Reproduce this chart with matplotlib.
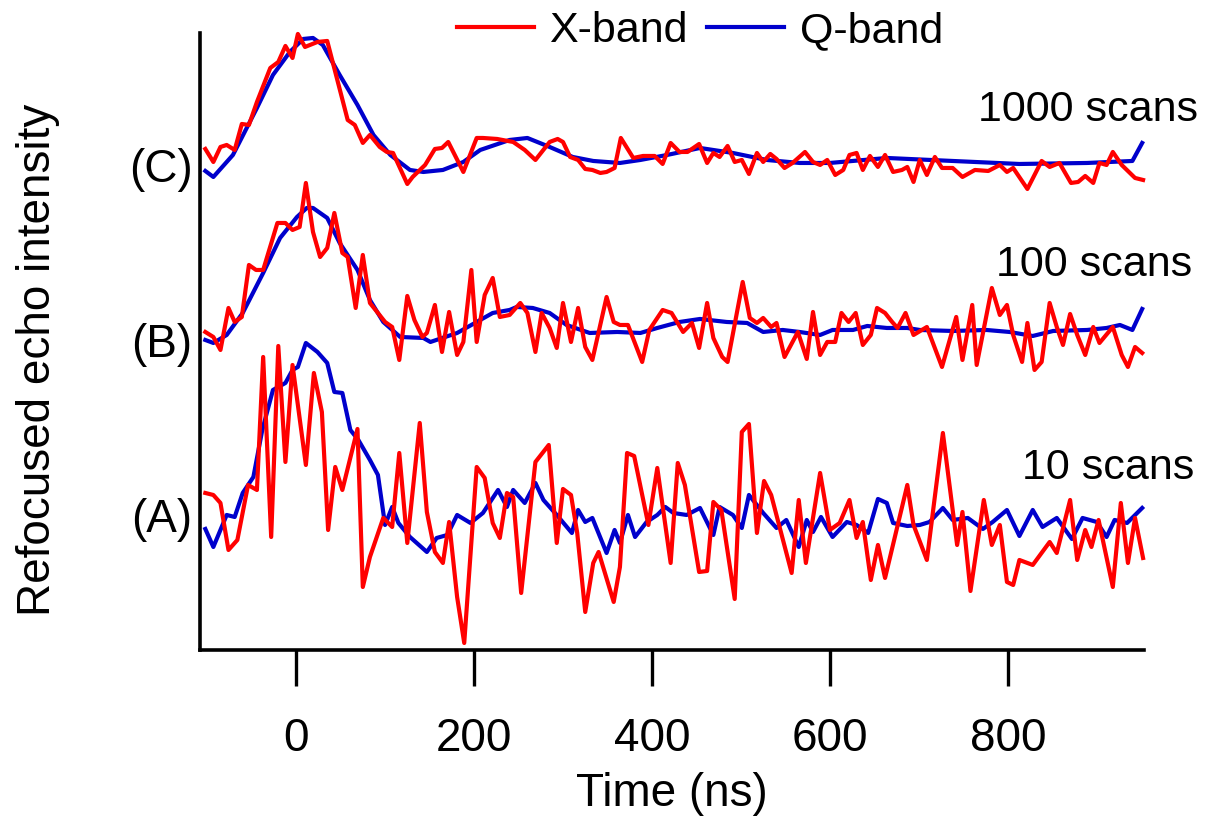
import matplotlib
matplotlib.use("Agg")
import matplotlib.pyplot as plt

plt.rcParams['font.family'] = ['Liberation Sans', 'DejaVu Sans']

# ---- data (time in ns, intensity in arbitrary units) ----
# (C) 1000 scans
xc_t = [-102, -93, -85, -78, -69, -61, -53, -44, -29, -20, -12, -4, 2, 10, 24, 35, 58, 66, 75, 83,
        94, 102, 109, 125, 131, 145, 156, 164, 171, 188, 203, 210, 226, 244, 257, 269, 285, 294, 300, 308,
        317, 325, 333, 342, 349, 358, 365, 379, 390, 403, 412, 421, 431, 440, 453, 462, 469, 476, 485, 493,
        501, 509, 518, 525, 533, 540, 549, 558, 572, 581, 589, 597, 606, 615, 622, 630, 637, 645, 654, 662,
        671, 681, 687, 694, 701, 709, 718, 726, 738, 749, 763, 778, 791, 799, 806, 822, 838, 847, 858, 871,
        879, 887, 896, 903, 911, 918, 928, 943, 952]
xc_y = [0.11, -0.02, 0.13, 0.15, 0.10, 0.36, 0.35, 0.58, 0.92, 0.98, 1.14, 1.02, 1.26, 1.13, 1.18, 1.19, 0.40, 0.35, 0.17, 0.25,
        0.13, 0.08, 0.07, -0.24, -0.17, -0.05, 0.11, 0.12, 0.18, -0.12, 0.22, 0.22, 0.21, 0.18, 0.10, 0.00, 0.18, 0.21, 0.18, 0.03,
        0.00, -0.09, -0.10, -0.13, -0.12, -0.08, 0.22, 0.02, 0.04, 0.04, -0.04, 0.17, 0.08, 0.08, 0.16, -0.03, 0.07, 0.03, 0.14, -0.02,
        0.00, -0.14, 0.07, -0.02, 0.06, 0.01, -0.08, -0.03, 0.08, -0.02, -0.05, 0.00, -0.15, -0.10, 0.05, 0.07, -0.10, 0.04, -0.07, 0.05,
        -0.12, -0.10, -0.07, -0.22, 0.00, -0.15, 0.03, -0.08, -0.08, -0.17, -0.10, -0.11, -0.05, -0.12, -0.08, -0.29, -0.01, -0.07, -0.03, -0.23,
        -0.22, -0.16, -0.23, -0.03, -0.05, 0.08, -0.05, -0.18, -0.20]
qc_t = [-102, -93, -71, -44, -26, -7, 8, 19, 30, 49, 69, 87, 106, 128, 143, 165, 188, 207, 240, 260,
        285, 311, 334, 364, 387, 417, 454, 491, 529, 566, 600, 664, 738, 813, 889, 940, 951]
qc_y = [-0.11, -0.17, 0.05, 0.52, 0.85, 1.08, 1.21, 1.22, 1.15, 0.85, 0.55, 0.25, 0.05, -0.10, -0.12, -0.10, -0.02, 0.10, 0.20, 0.22,
        0.13, 0.03, -0.01, -0.03, 0.00, 0.05, 0.12, 0.07, 0.00, -0.03, -0.03, 0.02, -0.01, -0.04, -0.03, -0.01, 0.17]

# (B) 100 scans
xb_t = [-102, -93, -85, -76, -69, -61, -53, -45, -37, -21, -12, -4, 4, 11, 19, 27, 35, 43, 52, 58,
        67, 75, 83, 92, 100, 108, 116, 125, 133, 142, 147, 156, 164, 172, 181, 188, 197, 203, 212, 221,
        229, 240, 252, 260, 269, 276, 285, 293, 300, 309, 317, 325, 333, 349, 357, 364, 373, 389, 397, 412,
        422, 435, 445, 453, 462, 469, 479, 485, 502, 510, 518, 525, 534, 540, 549, 564, 574, 581, 589, 597,
        606, 613, 621, 629, 637, 646, 653, 662, 670, 676, 685, 694, 709, 726, 742, 749, 760, 765, 782, 791,
        799, 806, 816, 822, 830, 838, 847, 855, 862, 870, 878, 887, 896, 903, 918, 928, 935, 943, 951]
xb_y = [-0.02, -0.07, -0.20, 0.22, 0.08, 0.13, 0.65, 0.60, 0.60, 1.07, 1.07, 1.00, 1.03, 1.47, 0.98, 0.73, 0.82, 1.17, 0.77, 0.73,
        0.22, 0.75, 0.27, 0.17, 0.08, 0.03, -0.30, 0.34, 0.10, -0.07, -0.03, 0.25, -0.22, 0.18, -0.25, -0.12, 0.60, -0.12, 0.35, 0.52,
        0.13, 0.15, 0.27, 0.17, -0.22, 0.17, 0.02, -0.18, 0.27, -0.12, 0.22, -0.17, -0.30, 0.33, 0.08, 0.05, 0.05, -0.32, 0.00, 0.20,
        0.17, -0.02, 0.07, -0.18, 0.27, -0.08, -0.27, -0.32, 0.48, 0.12, 0.07, 0.12, 0.03, 0.07, -0.27, -0.02, -0.29, 0.18, -0.25, -0.12,
        -0.12, 0.17, 0.08, 0.17, -0.15, -0.05, 0.22, 0.17, 0.08, 0.02, 0.17, -0.05, 0.03, -0.37, 0.13, -0.30, 0.25, -0.35, 0.42, 0.15,
        0.25, -0.05, -0.32, 0.07, -0.40, -0.32, 0.27, 0.03, -0.15, 0.16, -0.05, -0.25, 0.03, -0.13, 0.03, -0.25, -0.37, -0.17, -0.23]
qb_t = [-102, -93, -78, -60, -37, -18, 1, 12, 19, 35, 49, 69, 83, 98, 117, 143, 151, 181, 203, 221,
        240, 248, 266, 285, 304, 330, 361, 387, 406, 431, 454, 484, 507, 525, 547, 566, 589, 603, 626, 642,
        664, 687, 701, 738, 776, 802, 828, 851, 889, 911, 926, 940, 951]
qb_y = [-0.10, -0.13, -0.05, 0.17, 0.57, 0.92, 1.13, 1.22, 1.22, 1.12, 0.87, 0.60, 0.30, 0.08, -0.07, -0.08, -0.12, -0.03, 0.08, 0.17,
        0.20, 0.23, 0.22, 0.17, 0.05, -0.03, -0.02, -0.03, 0.02, 0.08, 0.11, 0.08, 0.07, -0.02, 0.00, -0.02, -0.05, 0.00, 0.00, 0.04,
        0.02, 0.02, 0.00, -0.01, 0.00, -0.02, -0.06, -0.01, 0.00, 0.02, 0.05, 0.00, 0.21]

# (A) 10 scans
xa_t = [-102, -93, -85, -76, -66, -54, -44, -37, -28, -20, -12, -4, 11, 20, 29, 36, 44, 52, 69, 75,
        83, 98, 108, 116, 125, 139, 147, 156, 165, 172, 181, 189, 203, 212, 221, 229, 237, 244, 253, 269,
        284, 293, 300, 309, 316, 325, 334, 340, 357, 364, 372, 380, 396, 406, 421, 429, 437, 453, 462, 469,
        478, 493, 501, 509, 518, 526, 534, 557, 565, 573, 589, 600, 611, 622, 630, 637, 646, 654, 662, 687,
        694, 709, 727, 743, 749, 758, 773, 782, 791, 799, 806, 813, 828, 847, 855, 870, 878, 887, 894, 902,
        918, 927, 935, 943, 952]
xa_y = [0.29, 0.27, 0.19, -0.28, -0.18, 0.37, 0.32, 1.65, -0.15, 1.76, 0.60, 1.57, 0.57, 1.49, 1.10, -0.08, 0.55, 0.32, 0.93, -0.65,
        -0.35, 0.04, -0.05, 0.69, -0.21, 0.99, 0.10, -0.30, -0.41, 0.00, -0.75, -1.21, 0.55, 0.44, -0.01, -0.16, 0.29, 0.25, -0.71, 0.60,
        0.77, -0.21, 0.33, 0.27, -0.11, -0.90, -0.41, -0.30, -0.80, -0.45, 0.69, 0.66, -0.03, 0.54, -0.41, 0.59, 0.37, -0.50, -0.49, 0.20,
        0.12, -0.77, 0.90, 0.98, -0.11, 0.41, 0.27, -0.51, 0.22, -0.41, 0.49, -0.08, -0.01, 0.22, -0.16, 0.00, -0.58, -0.23, -0.56, 0.37,
        -0.03, -0.38, 0.89, -0.23, 0.10, -0.69, 0.22, -0.23, -0.03, -0.60, -0.63, -0.38, -0.43, -0.20, -0.31, 0.22, -0.38, -0.08, -0.25, 0.02,
        -0.65, 0.19, -0.41, 0.04, -0.36]
qa_t = [-102, -93, -78, -69, -60, -48, -38, -26, -12, -4, 2, 11, 24, 35, 43, 52, 61, 70, 83, 92,
        100, 108, 115, 128, 147, 158, 170, 181, 196, 210, 227, 237, 244, 257, 269, 278, 293, 310, 317, 325,
        333, 349, 358, 364, 373, 381, 394, 406, 415, 424, 439, 454, 469, 476, 491, 501, 509, 525, 540, 551,
        565, 574, 581, 590, 603, 619, 630, 643, 654, 664, 671, 687, 701, 712, 727, 738, 755, 772, 783, 799,
        813, 828, 839, 855, 872, 884, 900, 911, 920, 934, 951]
qa_y = [-0.07, -0.25, 0.07, 0.05, 0.29, 0.45, 0.92, 1.32, 1.39, 1.52, 1.55, 1.79, 1.70, 1.59, 1.30, 1.29, 0.92, 0.82, 0.62, 0.47,
        -0.03, 0.15, -0.01, -0.15, -0.30, -0.16, -0.13, 0.07, -0.01, 0.09, 0.32, 0.15, 0.32, 0.19, 0.39, 0.22, 0.07, -0.11, 0.12, 0.00,
        0.04, -0.31, -0.08, -0.21, 0.07, -0.15, 0.00, 0.07, 0.15, 0.09, 0.07, 0.14, -0.13, 0.15, 0.07, -0.06, 0.27, 0.09, -0.06, 0.02,
        -0.25, 0.02, -0.10, 0.05, -0.15, 0.00, -0.03, -0.11, 0.23, 0.19, -0.01, -0.04, -0.03, 0.00, 0.14, 0.02, 0.04, -0.07, 0.00, 0.12,
        -0.14, 0.12, -0.05, 0.04, -0.17, 0.04, 0.00, -0.15, 0.02, -0.01, 0.14]

panels = ['(A)', '(B)', '(C)']
scans = ['10 scans', '100 scans', '1000 scans']
offsets = [1.28, 3.20, 4.90]
xband = [(xa_t, xa_y), (xb_t, xb_y), (xc_t, xc_y)]
qband = [(qa_t, qa_y), (qb_t, qb_y), (qc_t, qc_y)]
xticks = [0, 200, 400, 600, 800]

# ---- layout ----
red = '#ff0000'
blue = '#0000cc'
lw = 3.0

fig = plt.figure(figsize=(12.21, 8.18), dpi=100)
ax = fig.add_axes([0.1638, 0.2054, 0.7731, 0.7543])

for (tq, yq), (tx, yx), off in zip(qband, xband, offsets):
    lq, = ax.plot(tq, [v + off for v in yq], color=blue, lw=lw, zorder=2, clip_on=False)
    lx, = ax.plot(tx, [v + off for v in yx], color=red, lw=lw, zorder=3, clip_on=False)

ax.set_xlim(-108, 953)
ax.set_ylim(0, 6.17)

for s in ['top', 'right']:
    ax.spines[s].set_visible(False)
for s in ['left', 'bottom']:
    ax.spines[s].set_linewidth(2.6)

ax.set_yticks([])
ax.set_xticks(xticks)
ax.tick_params(axis='x', direction='out', length=26, width=2.4, pad=22, labelsize=33)

ax.set_xlabel('Time (ns)', fontsize=33)
ax.xaxis.set_label_coords(0.5, -0.197)
ax.set_ylabel('Refocused echo intensity', fontsize=33)
ax.yaxis.set_label_coords(-0.148, 0.47)

# panel labels on the left and scan counts on the right
label_y = [1.30, 3.05, 4.80]
for name, y in zip(panels, label_y):
    ax.text(-0.008, y, name, transform=ax.get_yaxis_transform(), ha='right', va='center', fontsize=33)

scan_pos = [(816, 1.82), (787, 3.85), (766, 5.40)]
for txt, (x, y) in zip(scans, scan_pos):
    ax.text(x, y, txt, ha='left', va='center', fontsize=31, clip_on=False)

fig.legend(handles=[lx, lq], labels=['X-band', 'Q-band'], loc='center',
           bbox_to_anchor=(0.573, 0.962), ncol=2, frameon=False, fontsize=31,
           handlelength=1.8, handletextpad=0.35, columnspacing=0.45, borderpad=0)

fig.savefig('out.png', dpi=100)
